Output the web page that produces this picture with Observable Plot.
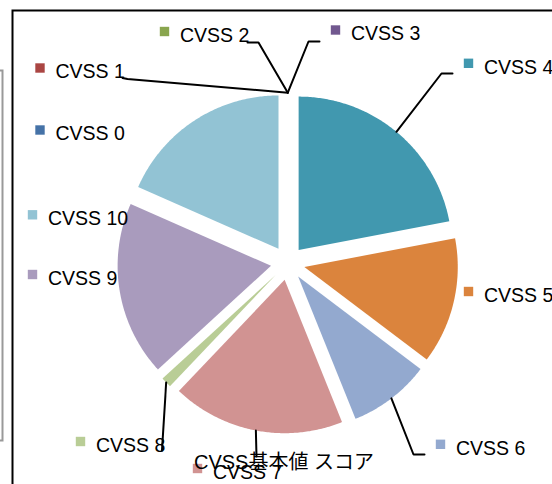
<!DOCTYPE html>
<html><head><meta charset="utf-8">
<script src="https://cdn.jsdelivr.net/npm/d3@7"></script>
<script src="https://cdn.jsdelivr.net/npm/@observablehq/plot@0.6"></script>
<style>html,body{margin:0;padding:0;overflow:hidden;background:#fff}</style>
</head><body><div id="chart"></div>
<script>
// ---- data ----
const categories = ["CVSS 0","CVSS 1","CVSS 2","CVSS 3","CVSS 4","CVSS 5","CVSS 6","CVSS 7","CVSS 8","CVSS 9","CVSS 10"];
const values = [0, 0, 0, 0, 22.0, 13.3, 8.6, 18.2, 1.1, 18.4, 18.4];
const colors = ["#4572A7","#AA4643","#89A54E","#71588F","#4198AF","#DB843D","#93A9CF","#D19392","#B9CD96","#A99BBD","#92C3D4"];
const title = "CVSS基本値 スコア";

// ---- layout ----
const W = 552, H = 484;
const pieLayout = {cx: 287.3, cy: 262.6, r: 153.4, explode: 17};
const legendSquares = [[39.5,129.5],[39.5,67.5],[164,31],[335,29.5],[468,62.8],[468,291],[440,443.8],[197,468],[80,441],[32,274],[32,214.3]];
const leaderElbows = {1: [[127,78.5],[122,77.5]], 2: [[258,42],[247,42]], 3: [[308,41],[319,41]], 4: [[441,73],[452,73]], 6: [[413,454],[424,454]], 7: [[256,456]], 8: [[161.5,450]]};

const data = categories.map((c, i) => ({key: c, value: values[i], color: colors[i], idx: i}));
const arcs = d3.pie().sort(null).value(d => d.value)(data);

const {cx, cy, r, explode} = pieLayout;
const slicePolys = [];
const attach = [];
arcs.forEach((a, i) => {
  const m = (a.startAngle + a.endAngle) / 2;
  const ax = cx + explode * Math.sin(m), ay = cy - explode * Math.cos(m);
  attach[i] = [ax + r * Math.sin(m), ay - r * Math.cos(m)];
  if (a.endAngle - a.startAngle <= 0) return;
  const pts = [{x: ax, y: ay}];
  const n = Math.max(4, Math.ceil((a.endAngle - a.startAngle) / 0.01));
  for (let k = 0; k <= n; k++) {
    const t = a.startAngle + (a.endAngle - a.startAngle) * k / n;
    pts.push({x: ax + r * Math.sin(t), y: ay - r * Math.cos(t)});
  }
  pts.push({x: ax, y: ay});
  slicePolys.push({pts, color: a.data.color});
});

const leaderPts = [];
Object.entries(leaderElbows).forEach(([i, elbows]) => {
  const p = attach[+i];
  leaderPts.push({x: p[0], y: p[1], k: i});
  elbows.forEach(e => leaderPts.push({x: e[0], y: e[1], k: i}));
});

const legendData = data.map((d, i) => ({...d, sx: legendSquares[i][0], sy: legendSquares[i][1]}));

const font = "'Liberation Sans', Arial, 'Noto Sans CJK JP', sans-serif";

const plot = Plot.plot({
  width: W, height: H,
  margin: 0,
  x: {domain: [0, W], range: [0, W], axis: null},
  y: {domain: [0, H], range: [0, H], axis: null},
  color: {type: "identity"},
  style: {fontFamily: font, background: "white", overflow: "hidden"},
  marks: [
    ...slicePolys.map(s => Plot.line(s.pts, {x: "x", y: "y", fill: s.color, stroke: "none", curve: "linear"})),
    Plot.line(leaderPts, {x: "x", y: "y", z: "k", stroke: "black", strokeWidth: 2, strokeLinejoin: "miter"}),
    Plot.dot(legendData, {x: "sx", y: "sy", symbol: "square", r: 5.3, fill: "color", stroke: "none"}),
    Plot.text(legendData, {x: d => d.sx + 15.5, y: d => d.sy + 4, text: "key", textAnchor: "start", lineAnchor: "middle", fontSize: 19.5, fill: "black"}),
    Plot.text([title], {x: 283.5, y: 462.5, text: d => d, textAnchor: "middle", lineAnchor: "middle", fontSize: 20, fill: "black"}),
    Plot.frame({stroke: "black", strokeWidth: 2, insetLeft: 12, insetTop: 10, insetRight: -20, insetBottom: -20}),
    Plot.frame({stroke: "#999", strokeWidth: 2, insetLeft: -20, insetRight: W - 2, insetTop: 70, insetBottom: H - 440})
  ]
});
document.getElementById("chart").appendChild(plot);
</script>
</body></html>
